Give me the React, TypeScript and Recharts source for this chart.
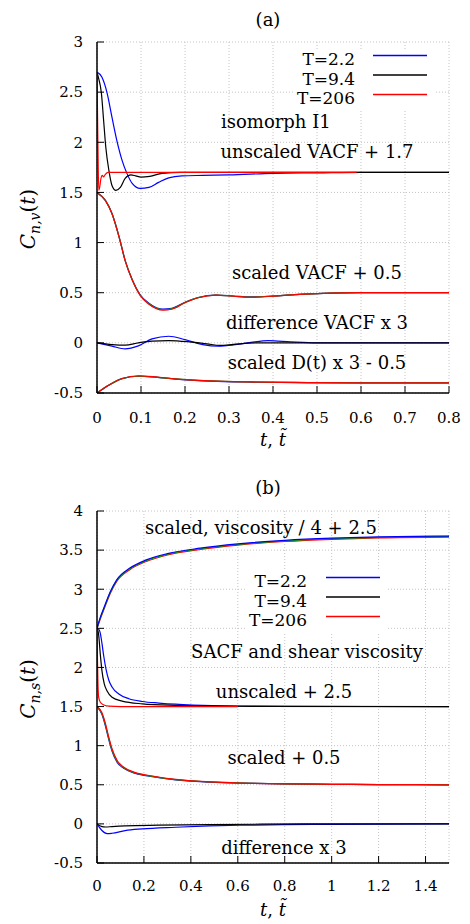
import React from "react";
import { LineChart, Line, XAxis, YAxis, CartesianGrid } from "recharts";

const BLUE = "#0000ff";
const BLACK = "#000000";
const RED = "#ff0000";
const GREEN = "#00a800";
const FONT = "'DejaVu Serif', serif";

// ---------- panel (a): VACF, isomorph I1 ----------
const aTicksX = [0, 0.1, 0.2, 0.3, 0.4, 0.5, 0.6, 0.7, 0.8];
const aTicksY = [-0.5, 0, 0.5, 1, 1.5, 2, 2.5, 3];

const unscaledVacfBlueT = [0, 0.011, 0.023, 0.034, 0.045, 0.057, 0.068, 0.08, 0.098, 0.118, 0.14, 0.163, 0.193, 0.24, 0.3, 0.4, 0.5, 0.6, 0.8];
const unscaledVacfBlue = [2.7, 2.65, 2.49, 2.25, 2.02, 1.82, 1.69, 1.59, 1.54, 1.55, 1.6, 1.645, 1.665, 1.67, 1.675, 1.69, 1.695, 1.7, 1.7];
const unscaledVacfBlackT = [0, 0.003, 0.01, 0.015, 0.02, 0.027, 0.034, 0.043, 0.053, 0.064, 0.077, 0.088, 0.1, 0.12, 0.148, 0.19, 0.3, 0.8];
const unscaledVacfBlack = [2.7, 2.65, 2.49, 2.22, 1.95, 1.72, 1.57, 1.52, 1.55, 1.64, 1.675, 1.665, 1.652, 1.66, 1.69, 1.7, 1.7, 1.7];
const unscaledVacfRedT = [0, 0.002, 0.004, 0.006, 0.009, 0.012, 0.015, 0.019, 0.025, 0.04, 0.1, 0.3, 0.59];
const unscaledVacfRed = [2.7, 2.0, 1.52, 1.55, 1.64, 1.67, 1.655, 1.68, 1.7, 1.7, 1.7, 1.7, 1.7];

const scaledVacfT = [0, 0.019, 0.034, 0.05, 0.064, 0.08, 0.098, 0.118, 0.135, 0.15, 0.17, 0.2, 0.23, 0.27, 0.31, 0.35, 0.4, 0.45, 0.5, 0.6, 0.8];
const scaledVacfBlue = [1.5, 1.42, 1.29, 1.06, 0.82, 0.63, 0.48, 0.395, 0.35, 0.337, 0.345, 0.405, 0.452, 0.476, 0.467, 0.458, 0.467, 0.481, 0.49, 0.5, 0.5];
const scaledVacfGreen = [1.5, 1.42, 1.29, 1.06, 0.82, 0.63, 0.477, 0.39, 0.345, 0.331, 0.34, 0.402, 0.451, 0.476, 0.466, 0.456, 0.466, 0.48, 0.49, 0.5, 0.5];
const scaledVacfRed = [1.5, 1.42, 1.29, 1.06, 0.82, 0.63, 0.474, 0.385, 0.34, 0.325, 0.335, 0.4, 0.45, 0.476, 0.465, 0.455, 0.465, 0.48, 0.49, 0.5, 0.5];

const diffVacfBlueT = [0, 0.034, 0.064, 0.094, 0.125, 0.163, 0.2, 0.24, 0.277, 0.31, 0.35, 0.39, 0.44, 0.5, 0.6, 0.8];
const diffVacfBlue = [0, -0.033, -0.06, -0.03, 0.04, 0.066, 0.033, -0.017, -0.033, -0.02, 0.005, 0.022, 0.01, 0, 0, 0];
const diffVacfBlackT = [0, 0.034, 0.064, 0.094, 0.125, 0.163, 0.21, 0.25, 0.28, 0.31, 0.36, 0.45, 0.8];
const diffVacfBlack = [0, -0.017, -0.023, 0, 0.018, 0.023, 0.01, -0.01, -0.025, -0.015, 0, 0, 0];

const scaledDT = [0, 0.027, 0.057, 0.095, 0.133, 0.178, 0.23, 0.29, 0.35, 0.45, 0.6, 0.8];
const scaledDBlue = [-0.5, -0.422, -0.357, -0.333, -0.342, -0.361, -0.376, -0.386, -0.391, -0.396, -0.4, -0.4];
const scaledDGreen = [-0.5, -0.421, -0.356, -0.331, -0.341, -0.36, -0.375, -0.385, -0.39, -0.395, -0.4, -0.4];
const scaledDRed = [-0.5, -0.42, -0.355, -0.33, -0.34, -0.36, -0.375, -0.385, -0.39, -0.395, -0.4, -0.4];

// ---------- panel (b): SACF and shear viscosity ----------
const bTicksX = [0, 0.2, 0.4, 0.6, 0.8, 1, 1.2, 1.4];
const bTicksY = [-0.5, 0, 0.5, 1, 1.5, 2, 2.5, 3, 3.5, 4];

const viscT = [0, 0.014, 0.028, 0.057, 0.084, 0.14, 0.21, 0.3, 0.44, 0.6, 0.8, 1.0, 1.2, 1.5];
const viscBlue = [2.5, 2.64, 2.75, 2.97, 3.12, 3.27, 3.375, 3.455, 3.525, 3.58, 3.625, 3.652, 3.668, 3.68];
const viscGreen = [2.5, 2.63, 2.74, 2.96, 3.11, 3.26, 3.365, 3.447, 3.517, 3.572, 3.617, 3.645, 3.662, 3.675];
const viscRed = [2.5, 2.62, 2.73, 2.95, 3.1, 3.25, 3.355, 3.438, 3.508, 3.564, 3.61, 3.638, 3.655, 3.665];

const unscaledSacfBlueT = [0, 0.007, 0.014, 0.021, 0.029, 0.039, 0.05, 0.064, 0.093, 0.136, 0.193, 0.264, 0.335, 0.41, 0.49, 0.6, 0.8, 1.5];
const unscaledSacfBlue = [2.5, 2.49, 2.44, 2.31, 2.14, 1.97, 1.84, 1.75, 1.66, 1.6, 1.565, 1.545, 1.53, 1.52, 1.513, 1.507, 1.502, 1.5];
const unscaledSacfBlackT = [0, 0.004, 0.007, 0.014, 0.021, 0.031, 0.043, 0.064, 0.107, 0.193, 0.335, 0.5, 0.7, 1.5];
const unscaledSacfBlack = [2.5, 2.47, 2.42, 2.17, 1.96, 1.79, 1.7, 1.62, 1.57, 1.535, 1.515, 1.507, 1.502, 1.5];
const unscaledSacfRedT = [0, 0.002, 0.004, 0.007, 0.014, 0.029, 0.05, 0.1, 0.3, 0.6];
const unscaledSacfRed = [2.5, 2.1, 1.8, 1.62, 1.555, 1.52, 1.505, 1.5, 1.5, 1.5];

const scaledSacfT = [0, 0.021, 0.036, 0.05, 0.064, 0.086, 0.114, 0.164, 0.236, 0.335, 0.48, 0.62, 0.8, 1.0, 1.2, 1.5];
const scaledSacfBlue = [1.5, 1.4, 1.25, 1.08, 0.93, 0.785, 0.71, 0.645, 0.604, 0.563, 0.535, 0.521, 0.511, 0.506, 0.503, 0.5];
const scaledSacfGreen = [1.5, 1.41, 1.265, 1.095, 0.945, 0.797, 0.717, 0.65, 0.608, 0.565, 0.536, 0.522, 0.512, 0.506, 0.503, 0.5];
const scaledSacfRed = [1.5, 1.42, 1.28, 1.11, 0.96, 0.81, 0.725, 0.655, 0.612, 0.568, 0.537, 0.522, 0.512, 0.506, 0.503, 0.5];

const diffSacfBlueT = [0, 0.021, 0.043, 0.064, 0.12, 0.193, 0.335, 0.48, 0.62, 0.8, 1.0, 1.5];
const diffSacfBlue = [0, -0.085, -0.125, -0.12, -0.085, -0.064, -0.043, -0.026, -0.017, -0.01, -0.005, 0];
const diffSacfBlackT = [0, 0.021, 0.036, 0.064, 0.12, 0.264, 0.48, 0.7, 1.0, 1.5];
const diffSacfBlack = [0, -0.034, -0.04, -0.034, -0.025, -0.017, -0.009, -0.004, 0, 0];

const legendLabels = ["T=2.2", "T=9.4", "T=206"];
const legendColors = [BLUE, BLACK, RED];

type Series = { t: number[]; v: number[]; color: string };

const seriesA: Series[] = [
  { t: unscaledVacfBlueT, v: unscaledVacfBlue, color: BLUE },
  { t: unscaledVacfBlackT, v: unscaledVacfBlack, color: BLACK },
  { t: unscaledVacfRedT, v: unscaledVacfRed, color: RED },
  { t: scaledVacfT, v: scaledVacfBlue, color: BLUE },
  { t: scaledVacfT, v: scaledVacfGreen, color: GREEN },
  { t: scaledVacfT, v: scaledVacfRed, color: RED },
  { t: diffVacfBlueT, v: diffVacfBlue, color: BLUE },
  { t: diffVacfBlackT, v: diffVacfBlack, color: BLACK },
  { t: scaledDT, v: scaledDBlue, color: BLUE },
  { t: scaledDT, v: scaledDGreen, color: GREEN },
  { t: scaledDT, v: scaledDRed, color: RED },
];

const seriesB: Series[] = [
  { t: viscT, v: viscRed, color: RED },
  { t: viscT, v: viscGreen, color: GREEN },
  { t: viscT, v: viscBlue, color: BLUE },
  { t: unscaledSacfBlueT, v: unscaledSacfBlue, color: BLUE },
  { t: unscaledSacfBlackT, v: unscaledSacfBlack, color: BLACK },
  { t: unscaledSacfRedT, v: unscaledSacfRed, color: RED },
  { t: scaledSacfT, v: scaledSacfBlue, color: BLUE },
  { t: scaledSacfT, v: scaledSacfGreen, color: GREEN },
  { t: scaledSacfT, v: scaledSacfRed, color: RED },
  { t: diffSacfBlueT, v: diffSacfBlue, color: BLUE },
  { t: diffSacfBlackT, v: diffSacfBlack, color: BLACK },
];

const tickFont = { fill: "#000", fontSize: 15, fontFamily: FONT };
const axisLine = { stroke: "#000", strokeWidth: 1.5 };

function Panel({
  series,
  xTicks,
  yTicks,
  xMax,
  yMin,
  yMax,
  top,
  bottom,
  xTickMargin,
}: {
  series: Series[];
  xTicks: number[];
  yTicks: number[];
  xMax: number;
  yMin: number;
  yMax: number;
  top: number;
  bottom: number;
  xTickMargin: number;
}) {
  return (
    <LineChart width={470} height={462} margin={{ top, right: 21, bottom, left: 0 }}>
      <CartesianGrid xAxisId="b" yAxisId="l" stroke="#c4c4c4" strokeDasharray="1 2" />
      <XAxis
        xAxisId="b"
        type="number"
        dataKey="t"
        domain={[0, xMax]}
        ticks={xTicks}
        interval={0}
        height={30}
        tickSize={-7}
        tickMargin={xTickMargin}
        tick={tickFont}
        axisLine={axisLine}
        tickLine={{ stroke: "#000" }}
        allowDataOverflow
      />
      <XAxis
        xAxisId="t"
        orientation="top"
        type="number"
        dataKey="t"
        domain={[0, xMax]}
        ticks={xTicks}
        interval={0}
        height={0}
        tickSize={-7}
        tick={false}
        axisLine={axisLine}
        tickLine={{ stroke: "#000" }}
      />
      <YAxis
        yAxisId="l"
        type="number"
        domain={[yMin, yMax]}
        ticks={yTicks}
        interval={0}
        width={97}
        tickSize={-7}
        tickMargin={21}
        tick={tickFont}
        axisLine={axisLine}
        tickLine={{ stroke: "#000" }}
        allowDataOverflow
      />
      <YAxis
        yAxisId="r"
        orientation="right"
        type="number"
        domain={[yMin, yMax]}
        ticks={yTicks}
        interval={0}
        width={0}
        tickSize={-7}
        tick={false}
        axisLine={axisLine}
        tickLine={{ stroke: "#000" }}
      />
      {series.map((s, i) => (
        <Line
          key={i}
          xAxisId="b"
          yAxisId="l"
          data={s.t.map((t, j) => ({ t, v: s.v[j] }))}
          dataKey="v"
          type="monotone"
          stroke={s.color}
          strokeWidth={1.2}
          dot={false}
          activeDot={false}
          isAnimationActive={false}
        />
      ))}
    </LineChart>
  );
}

function Txt({
  x,
  y,
  children,
  align = "start",
  size = 18,
}: {
  x: number;
  y: number;
  children: React.ReactNode;
  align?: "start" | "middle" | "end";
  size?: number;
}) {
  const tx = align === "start" ? "0" : align === "middle" ? "-50%" : "-100%";
  return (
    <div
      style={{
        position: "absolute",
        left: x,
        top: y,
        transform: `translate(${tx}, -50%)`,
        whiteSpace: "nowrap",
        fontSize: size,
        lineHeight: 0.9,
        fontFamily: FONT,
        color: "#000",
      }}
    >
      {children}
    </div>
  );
}

function KeyBox({ textRight, lineX1, lineX2, rowY }: { textRight: number; lineX1: number; lineX2: number; rowY: number[] }) {
  const boxLeft = textRight - 62;
  const boxTop = rowY[0] - 11;
  const boxW = lineX2 - textRight + 70;
  const boxH = rowY[2] - rowY[0] + 22;
  return (
    <>
      <svg
        width={boxW}
        height={boxH}
        style={{ position: "absolute", left: boxLeft, top: boxTop, background: "#fff" }}
      >
        {legendColors.map((c, i) => (
          <line
            key={c}
            x1={lineX1 - boxLeft}
            x2={lineX2 - boxLeft}
            y1={rowY[i] - 4.5 - boxTop}
            y2={rowY[i] - 4.5 - boxTop}
            stroke={c}
            strokeWidth={1.3}
          />
        ))}
      </svg>
      {legendLabels.map((lab, i) => (
        <Txt key={lab} x={textRight} y={rowY[i]} align="end" size={17}>
          {lab}
        </Txt>
      ))}
    </>
  );
}

function YLabel({ x, y, sub }: { x: number; y: number; sub: string }) {
  return (
    <div
      style={{
        position: "absolute",
        left: x,
        top: y,
        transform: "translate(-50%, -50%) rotate(-90deg)",
        whiteSpace: "nowrap",
        fontSize: 20,
        lineHeight: 1,
        fontFamily: FONT,
      }}
    >
      <i>C</i>
      <sub style={{ fontSize: 14 }}>
        <i>{sub}</i>
      </sub>
      (<i>t</i>)
    </div>
  );
}

export default function App() {
  return (
    <div
      style={{
        position: "absolute",
        left: 0,
        top: 0,
        width: 470,
        height: 924,
        background: "#fff",
        overflow: "hidden",
      }}
    >
      <div style={{ position: "absolute", left: 0, top: 0 }}>
        <Panel
          series={seriesA}
          xTicks={aTicksX}
          yTicks={aTicksY}
          xMax={0.8}
          yMin={-0.5}
          yMax={3}
          top={42}
          bottom={39}
          xTickMargin={26}
        />
      </div>
      <div style={{ position: "absolute", left: 0, top: 462 }}>
        <Panel
          series={seriesB}
          xTicks={bTicksX}
          yTicks={bTicksY}
          xMax={1.5}
          yMin={-0.5}
          yMax={4}
          top={49}
          bottom={31}
          xTickMargin={24}
        />
      </div>

      {/* panel (a) texts */}
      <Txt x={268} y={20} align="middle">(a)</Txt>
      <KeyBox textRight={355} lineX1={373} lineX2={427} rowY={[60, 79.5, 99]} />
      <Txt x={221} y={122}>isomorph I1</Txt>
      <Txt x={317} y={152} align="middle">unscaled VACF + 1.7</Txt>
      <Txt x={317} y={273} align="middle">scaled VACF + 0.5</Txt>
      <Txt x={317} y={323} align="middle">difference VACF x 3</Txt>
      <Txt x={317} y={363} align="middle">scaled D(t) x 3 - 0.5</Txt>
      <YLabel x={30} y={219} sub="n,v" />
      <Txt x={273} y={440} align="middle">
        <i>t</i>, <i>t̃</i>
      </Txt>

      {/* panel (b) texts */}
      <Txt x={268} y={488} align="middle">(b)</Txt>
      <Txt x={261} y={528} align="middle">scaled, viscosity / 4 + 2.5</Txt>
      <KeyBox textRight={307} lineX1={326} lineX2={380} rowY={[582, 601.5, 621]} />
      <Txt x={307} y={652} align="middle">SACF and shear viscosity</Txt>
      <Txt x={284} y={692} align="middle">unscaled + 2.5</Txt>
      <Txt x={284} y={758} align="middle">scaled + 0.5</Txt>
      <Txt x={284} y={848} align="middle">difference x 3</Txt>
      <YLabel x={30} y={689} sub="n,s" />
      <Txt x={273} y={910} align="middle">
        <i>t</i>, <i>t̃</i>
      </Txt>
    </div>
  );
}
